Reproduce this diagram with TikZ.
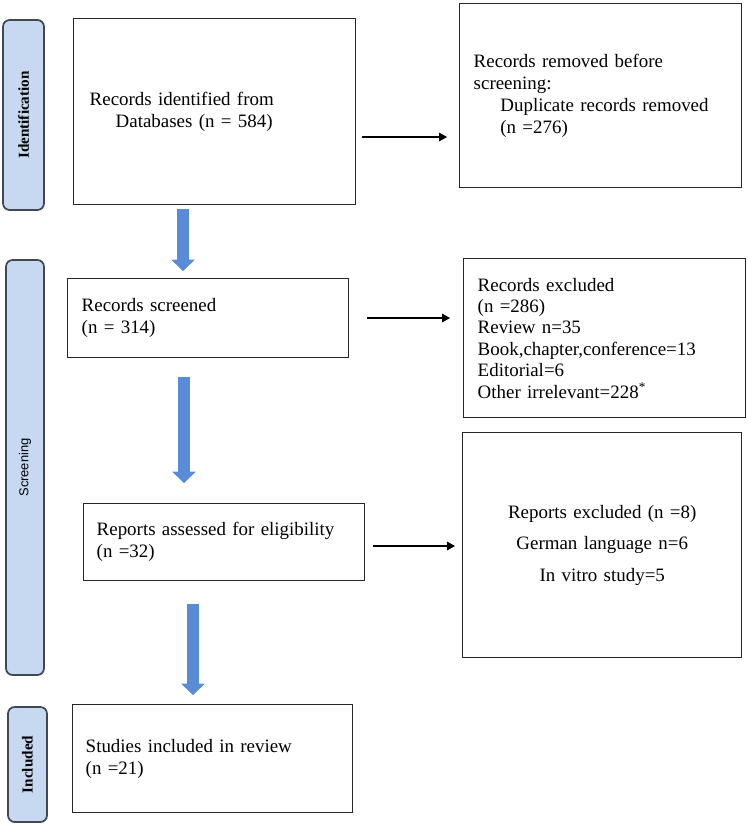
\documentclass[tikz,border=0pt]{standalone}
\usepackage{fontspec}
\setmainfont{Liberation Serif}
\newfontfamily\sidesans{Liberation Sans}
\usetikzlibrary{arrows.meta}
\definecolor{sidefill}{RGB}{198,217,241}
\definecolor{sideline}{RGB}{64,72,84}
\definecolor{arrowblue}{RGB}{88,140,214}

\begin{document}
\begin{tikzpicture}[x=0.75pt,y=-0.75pt,
  box/.style={draw=black!85,line width=1.1pt,anchor=north west,align=left,inner ysep=0pt,
    font=\fontsize{14.2}{16.5}\selectfont},
  side/.style={draw=sideline,fill=sidefill,line width=1.3pt,rounded corners=5pt,rotate=90,
    inner sep=0pt,font=\fontsize{11.4}{13}\selectfont\bfseries},
  flow/.style={black,line width=0.9pt,-{Triangle[length=6pt,width=6.5pt]}},
  bigarrow/.style={arrowblue,line width=9pt,-{Triangle[line width=0.5pt,length=8.5pt,width=17.5pt]}}]
\path[use as bounding box] (0,0) rectangle (748,824);
% stage labels on the left
\node[side,minimum width=142.5pt,minimum height=30.75pt] (idn) at (23.5,115) {Identification};
\node[side,minimum width=311.25pt,minimum height=28.5pt,font=\fontsize{9.7}{11}\selectfont\sidesans] (scrn) at (25,467.5) {Screening};
\node[side,minimum width=86.25pt,minimum height=29.25pt] (incl) at (27.5,764.5) {Included};
% main column
\node[box,text width=187.5pt,inner xsep=12pt,minimum height=139.5pt] (ident) at (73,18)
  {Records identified from\\\hspace*{19.5pt}Databases (n = 584)};
\node[box,text width=189.75pt,inner xsep=10.5pt,minimum height=59.25pt] (scr) at (67,278)
  {Records screened\\(n = 314)};
\node[box,text width=191.25pt,inner xsep=9.75pt,minimum height=57.75pt] (assd) at (83,503)
  {Reports assessed for eligibility\\(n =32)};
\node[box,text width=190.5pt,inner xsep=9.75pt,minimum height=81pt] (stud) at (72,704)
  {Studies included in review\\(n =21)};
% right column
\node[box,text width=190.5pt,inner xsep=10.5pt,minimum height=138pt] (remv) at (459,3)
  {Records removed before\\screening:\\\hspace*{20pt}Duplicate records removed\\\hspace*{20pt}(n =276)};
\node[box,text width=190.5pt,inner xsep=10.5pt,minimum height=119.25pt,font=\fontsize{14.2}{16.1}\selectfont] (excl) at (463,258)
  {Records excluded\\(n =286)\\Review n=35\\Book,chapter,conference=13\\Editorial=6\\Other irrelevant=228\textsuperscript{*}};
\node[box,align=center,text width=188.25pt,inner xsep=10.5pt,minimum height=168.75pt] (rexc) at (462,432)
  {Reports excluded (n =8)\\[7pt]German language n=6\\[7pt]In vitro study=5};
% downward block arrows
\coordinate (a1) at (183,0);
\coordinate (a2) at (184,0);
\coordinate (a3) at (193,0);
\draw[bigarrow] ([yshift=-3pt]ident.south -| a1) -- ([yshift=5.25pt]scr.north -| a1);
\draw[bigarrow] ([yshift=-14.25pt]scr.south -| a2) -- ([yshift=15pt]assd.north -| a2);
\draw[bigarrow] ([yshift=-17.25pt]assd.south -| a3) -- ([yshift=6.75pt]stud.north -| a3);
% side arrows
\coordinate (t1) at (362,137);
\coordinate (t2) at (367,318);
\coordinate (t3) at (373,546);
\draw[flow,shorten >=9pt] (t1) -- (t1 -| remv.west);
\draw[flow,shorten >=9.75pt] (t2) -- (t2 -| excl.west);
\draw[flow,shorten >=5.25pt] (t3) -- (t3 -| rexc.west);
\end{tikzpicture}
\end{document}
